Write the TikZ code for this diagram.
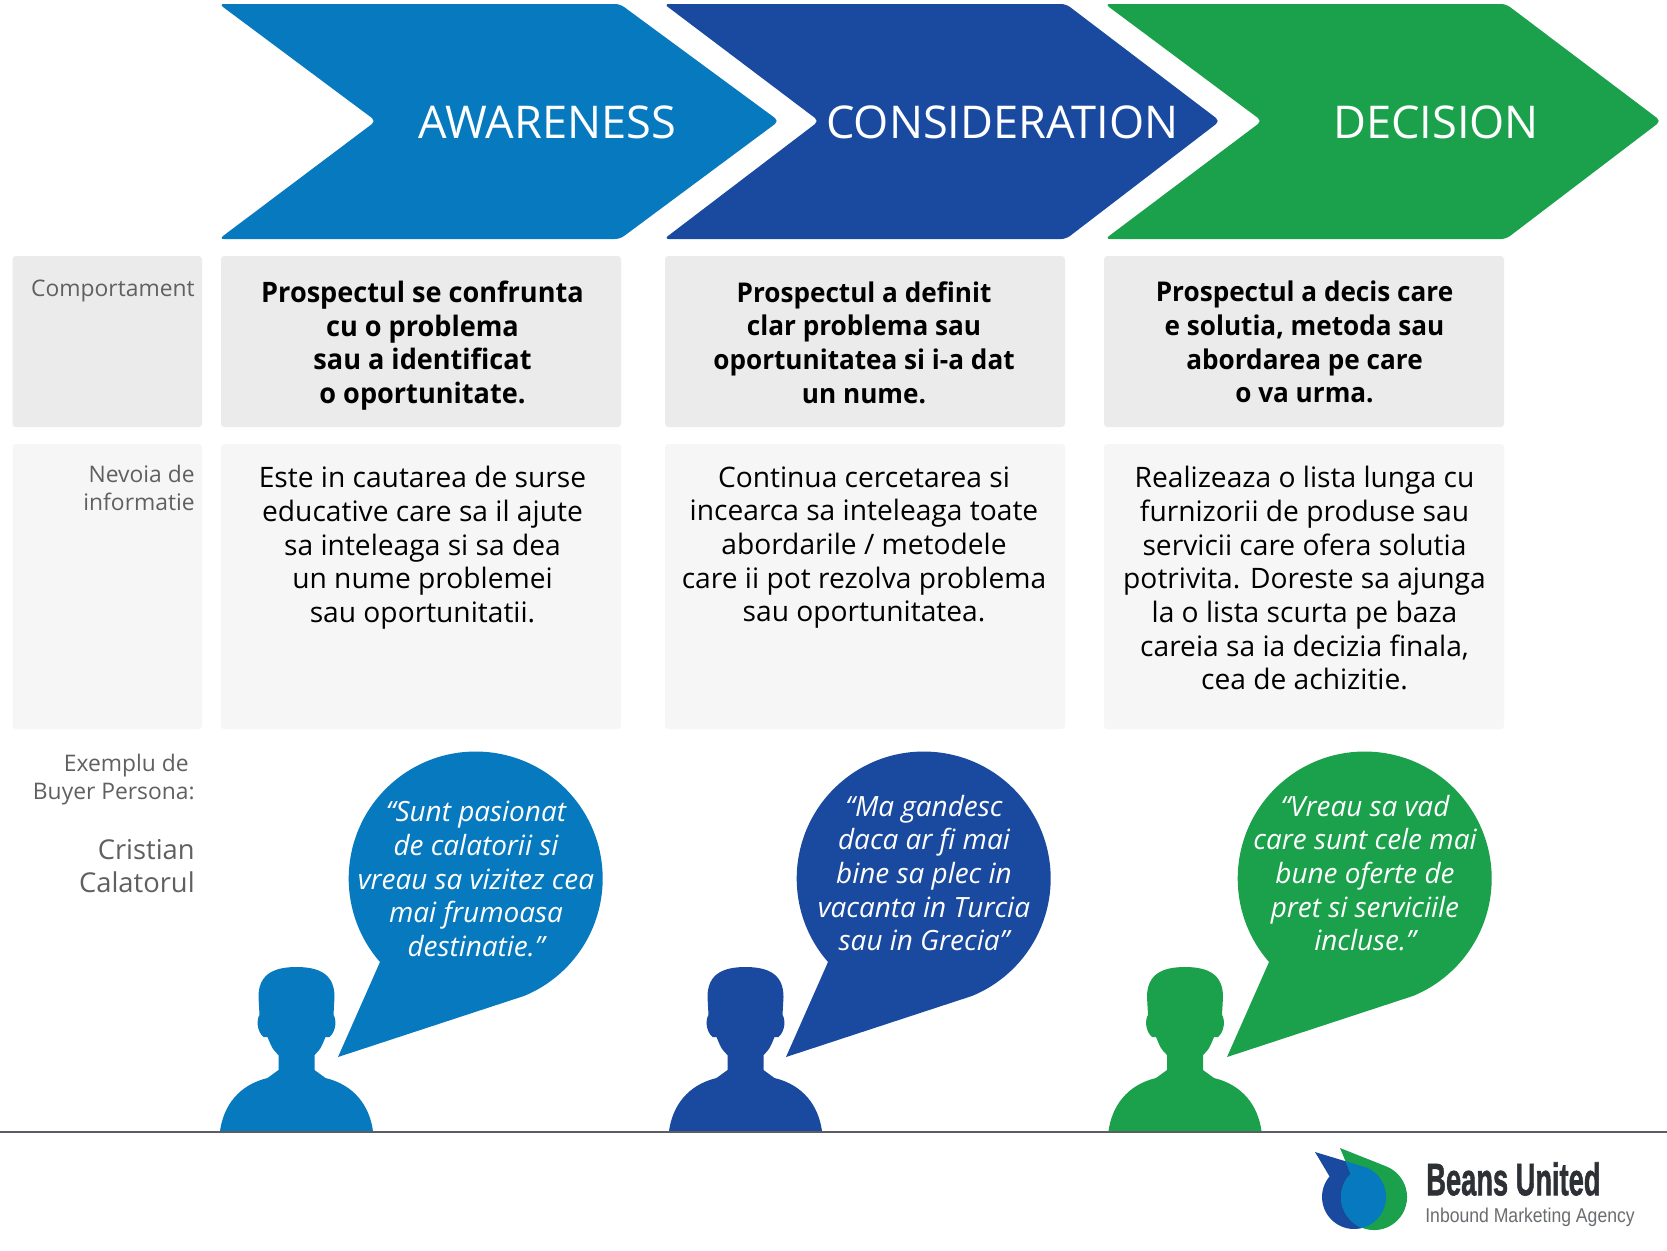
\documentclass[tikz,border=0pt]{standalone}
\usepackage{fontspec}
\usepackage{graphicx}
\setmainfont{Open Sans}
\newfontfamily\semifont[FakeStretch=0.962]{Open Sans}
\definecolor{stagea}{HTML}{0679BF}
\definecolor{stageb}{HTML}{1A4A9F}
\definecolor{stagec}{HTML}{1BA14B}
\definecolor{boxdark}{HTML}{EBEBEB}
\definecolor{boxlight}{HTML}{F6F6F6}
\definecolor{labelgray}{HTML}{5F6062}
\definecolor{rulegray}{HTML}{5A5E62}
\definecolor{logodark}{HTML}{2D3035}
\definecolor{logogray}{HTML}{6A6D70}
\tikzset{
	chevron/.style={rounded corners=3pt},
	rowdark/.style={fill=boxdark,rounded corners=2pt},
	rowlight/.style={fill=boxlight,rounded corners=2pt},
	headtext/.style={text=white,inner sep=0pt,font=\fontsize{27.1}{30}\selectfont},
	bodytext/.style={align=center,inner sep=0pt,anchor=north,font=\fontsize{16.9}{20.2}\selectfont},
	boldtext/.style={bodytext,font=\fontsize{16.9}{20.2}\selectfont\semifont\bfseries},
	boldsmall/.style={bodytext,font=\fontsize{16.3}{20.2}\selectfont\semifont\bfseries},
	sidetext/.style={align=right,inner sep=0pt,anchor=north east,text=labelgray,font=\fontsize{13.7}{16.5}\selectfont},
	quotetext/.style={align=center,inner sep=0pt,text=white,font=\fontsize{16.75}{20.2}\selectfont\itshape},
	persona/.pic={
		\path[pic actions] (-76.5,0) .. controls (-73,-25) and (-58,-46) .. (-29,-53) -- (-18,-61) -- (-18,-76)
			.. controls (-24,-82) .. (-29,-94) -- (-33,-94) .. controls (-40,-100) and (-40,-112) .. (-37,-116)
			-- (-38,-134) .. controls (-38,-156) and (-24,-164) .. (0,-164)
			.. controls (24,-164) and (38,-156) .. (38,-134) -- (37,-116)
			.. controls (40,-112) and (40,-100) .. (33,-94) -- (29,-94) .. controls (24,-82) .. (18,-76)
			-- (18,-61) -- (29,-53) .. controls (58,-46) and (73,-25) .. (76.5,0) -- cycle;
	},
	bubble/.pic={
		\path[pic actions] (-137,178) -- (-95,83) arc[start angle=138.9,end angle=427.5,radius=127] -- cycle;
	},
}
\newcommand{\logoblue}{(1315,1152) -- (1329.5,1176.4) arc[start angle=220,end angle=-66,radius=32] -- cycle}
\newcommand{\logogreen}{(1340,1148) -- (1350.7,1173.7) arc[start angle=225,end angle=-68,radius=33] -- cycle}
\begin{document}
\begin{tikzpicture}[x=0.6pt,y=-0.6pt]
	\useasboundingbox (0,0) rectangle (1667,1250);
	\fill[white] (0,0) rectangle (1667,1250);

	% chevrons
	\fill[stagea,chevron] (219,4) -- (620,4) -- (779,121) -- (620,239) -- (219,239) -- (376,121) -- cycle;
	\fill[stageb,chevron] (664,4) -- (1066,4) -- (1220,121) -- (1066,239) -- (664,239) -- (819,121) -- cycle;
	\fill[stagec,chevron] (1105,4) -- (1506,4) -- (1661,121) -- (1506,239) -- (1105,239) -- (1262,121) -- cycle;
	\node[headtext] (awareness) at (547.5,122.5) {AWARENESS};
	\node[headtext] (consideration) at (1002.5,122.5) {CONSIDERATION};
	\node[headtext] (decision) at (1436,122.5) {DECISION};

	% rows
	\fill[rowdark] (12.5,256) rectangle (202,427);
	\fill[rowdark] (221,256) rectangle (621,427);
	\fill[rowdark] (665,256) rectangle (1065,427);
	\fill[rowdark] (1104,256) rectangle (1504,427);
	\fill[rowlight] (12.5,444) rectangle (202,729);
	\fill[rowlight] (221,444) rectangle (621,729);
	\fill[rowlight] (665,444) rectangle (1065,729);
	\fill[rowlight] (1104,444) rectangle (1504,729);

	\node[sidetext] (comportament) at (195,280) {Comportament};
	\node[sidetext] (nevoia) at (195,465) {Nevoia de\\informatie};
	\node[sidetext] (exemplu) at (195,754) {Exemplu de\phantom{:}\\Buyer Persona:};
	\node[sidetext,font=\fontsize{16.4}{19.6}\selectfont] (cristian) at (195,839) {Cristian\\Calatorul};

	\node[boldtext] (behava) at (422.5,280.5) {Prospectul se confrunta\\cu o problema\\sau a identificat\\o oportunitate.};
	\node[boldsmall] (behavb) at (864,281) {Prospectul a definit\\clar problema sau\\oportunitatea si i-a dat\\un nume.};
	\node[boldsmall] (behavc) at (1304.5,281) {Prospectul a decis care\\e solutia, metoda sau\\abordarea pe care\\o va urma.};

	\node[bodytext] (infoa) at (422.5,466) {Este in cautarea de surse\\educative care sa il ajute\\sa inteleaga si sa dea\\un nume problemei\\sau oportunitatii.};
	\node[bodytext] (infob) at (864,466) {Continua cercetarea si\\incearca sa inteleaga toate\\abordarile / metodele\\care ii pot rezolva problema\\sau oportunitatea.};
	\node[bodytext] (infoc) at (1304.5,466) {Realizeaza o lista lunga cu\\furnizorii de produse sau\\servicii care ofera solutia\\potrivita. Doreste sa ajunga\\la o lista scurta pe baza\\careia sa ia decizia finala,\\cea de achizitie.};

	% personas
	\pic[fill=stagea] at (296.5,1131) {persona};
	\pic[fill=stageb] at (745.5,1131) {persona};
	\pic[fill=stagec] at (1185,1131) {persona};
	\pic[fill=stagea] at (475,879) {bubble};
	\pic[fill=stageb] at (923,879) {bubble};
	\pic[fill=stagec] at (1364,879) {bubble};
	\node[quotetext] (quotea) at (476,879) {“Sunt pasionat\\de calatorii si\\vreau sa vizitez cea\\mai frumoasa\\destinatie.”};
	\node[quotetext] (quoteb) at (924,873) {“Ma gandesc\\daca ar fi mai\\bine sa plec in\\vacanta in Turcia\\sau in Grecia”};
	\node[quotetext] (quotec) at (1365,873) {“Vreau sa vad\\care sunt cele mai\\bune oferte de\\pret si serviciile\\incluse.”};

	\draw[rulegray,line width=1.2pt] (0,1132) -- (1667,1132);

	% logo
	\fill[stageb] \logoblue;
	\fill[stagec] \logogreen;
	\begin{scope}
		\clip \logoblue;
		\fill[stagea] \logogreen;
	\end{scope}
	\node[inner sep=0pt,anchor=south west,text=logodark] (beans) at (1426,1196) {\resizebox{104.5pt}{19.8pt}{\fontspec[FakeBold=1.5]{Liberation Sans}\bfseries Beans United}};
	\node[inner sep=0pt,anchor=base west,text=logogray] (inbound) at (1425,1222) {\fontsize{12}{14}\selectfont\fontspec{Liberation Sans}\scalebox{0.88}[1]{Inbound Marketing Agency}};
\end{tikzpicture}
\end{document}
